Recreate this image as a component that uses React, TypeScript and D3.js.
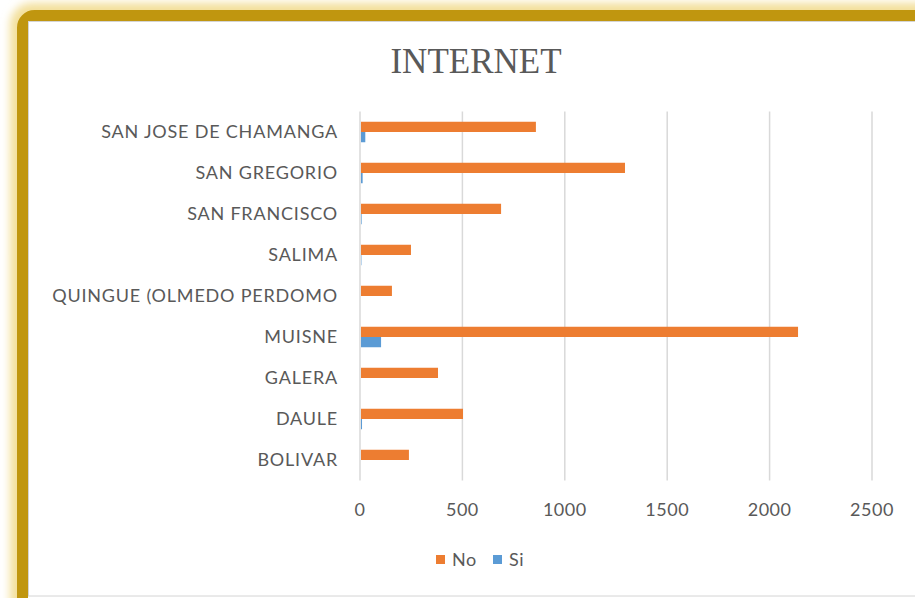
import React from "react";
import * as d3 from "d3";

const categories = [
  "SAN JOSE DE CHAMANGA",
  "SAN GREGORIO",
  "SAN FRANCISCO",
  "SALIMA",
  "QUINGUE (OLMEDO PERDOMO",
  "MUISNE",
  "GALERA",
  "DAULE",
  "BOLIVAR",
];
const noValues = [854, 1289, 684, 244, 151, 2134, 376, 498, 234];
const siValues = [21, 8, 3, 2, 0, 98, 0, 5, 0];
const xTicks = [0, 500, 1000, 1500, 2000, 2500];
const seriesNames = ["No", "Si"];
const seriesColors = ["#ED7D31", "#5B9BD5"];

export default function App() {
  const W = 915;
  const H = 598;
  const x = d3.scaleLinear().domain([0, 2500]).range([360, 872]);
  const y = d3.scaleBand().domain(categories).range([111.5, 480.5]).paddingInner(0.5).paddingOuter(0.25);
  const sub = d3.scaleBand().domain(seriesNames).range([0, y.bandwidth()]);
  const font = "Lato, 'Open Sans', sans-serif";
  const textColor = "#595959";
  const series = [noValues, siValues];

  return (
    <svg width={W} height={H} style={{ position: "absolute", left: 0, top: 0 }}>
      <defs>
        <filter id="glow" x="-10%" y="-10%" width="120%" height="120%">
          <feGaussianBlur stdDeviation="4" />
        </filter>
      </defs>
      <rect width={W} height={H} fill="#ffffff" />
      <rect x={18} y={11} width={1000} height={700} rx={14} fill="none" stroke="#F3DF9A" strokeWidth={16} filter="url(#glow)" />
      <rect x={22.5} y={15.5} width={1000} height={700} rx={12} fill="#ffffff" stroke="#C0960F" strokeWidth={11} />
      <rect x={28.5} y={21.5} width={1000} height={574.5} fill="#ffffff" stroke="#d4d4d4" strokeWidth={1} />
      <text x={476} y={73} textAnchor="middle" fontFamily="'Liberation Serif', 'Times New Roman', serif" fontSize={35} fill={textColor}>
        INTERNET
      </text>
      {xTicks.map((t) => (
        <g key={t}>
          <line x1={x(t)} x2={x(t)} y1={111.5} y2={480.5} stroke="#d9d9d9" strokeWidth={1.5} />
          <text x={x(t)} y={516} textAnchor="middle" fontFamily={font} fontSize={18} letterSpacing={0.5} fill={textColor}>
            {t}
          </text>
        </g>
      ))}
      {categories.map((c, i) => (
        <g key={c}>
          <text x={338} y={(y(c) as number) + y.bandwidth() / 2} dy="0.35em" textAnchor="end" fontFamily={font} fontSize={18} letterSpacing={0.8} fill={textColor}>
            {c}
          </text>
          {series.map((vals, s) => (
            <rect
              key={s}
              x={x(0) + 1}
              y={(y(c) as number) + (sub(seriesNames[s]) as number)}
              width={Math.max(0, x(vals[i]) - x(0))}
              height={sub.bandwidth()}
              fill={seriesColors[s]}
            />
          ))}
        </g>
      ))}
      {seriesNames.map((n, s) => (
        <g key={n} transform={`translate(${[436, 493][s]},555)`}>
          <rect width={9} height={9} fill={seriesColors[s]} />
          <text x={16} y={4.5} dy="0.35em" fontFamily={font} fontSize={18} letterSpacing={0.6} fill={textColor}>
            {n}
          </text>
        </g>
      ))}
    </svg>
  );
}
